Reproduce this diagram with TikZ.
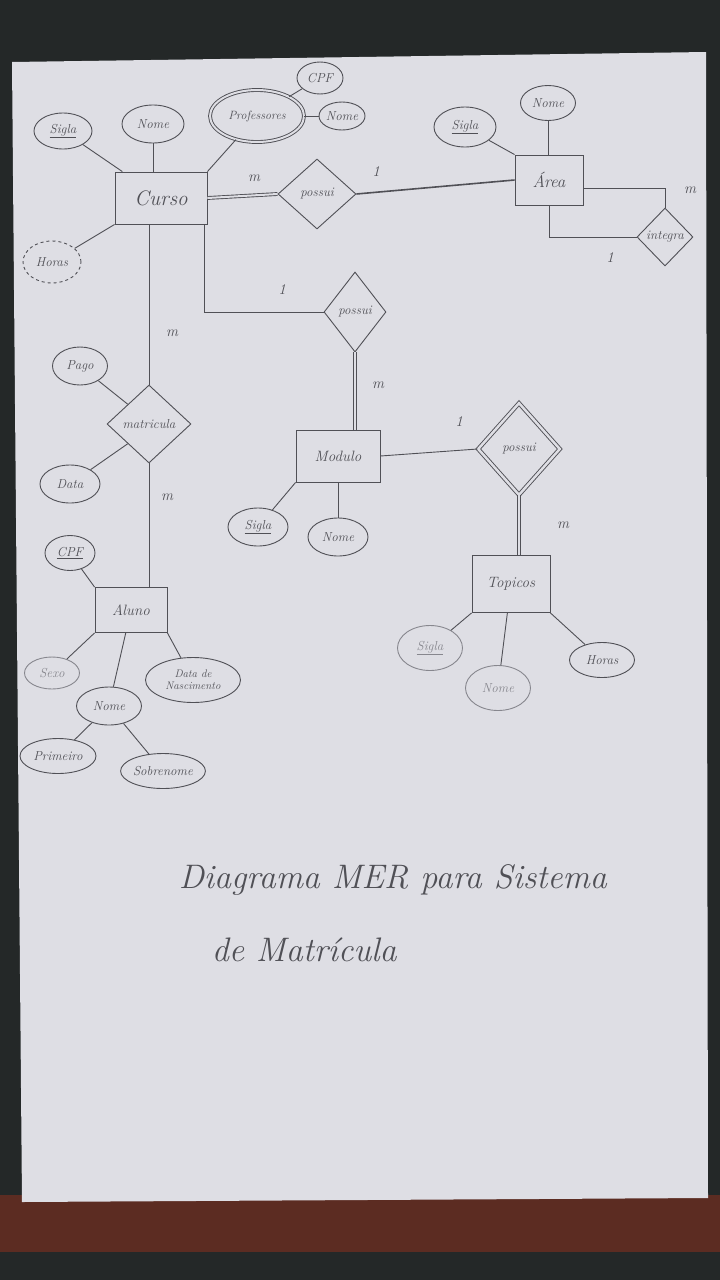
\documentclass[tikz,border=0pt]{standalone}
\usepackage{xcolor}
\usepackage{tikz}
\usetikzlibrary{shapes.geometric,positioning,calc}

\definecolor{pencil}{RGB}{80,80,86}
\definecolor{faint}{RGB}{135,135,142}
\definecolor{paper}{RGB}{222,222,228}
\definecolor{backdrop}{RGB}{36,40,40}
\definecolor{wood}{RGB}{92,44,34}

\begin{document}
\begin{tikzpicture}
  [
    x=1pt, y=-1pt,
    line width=0.9pt,
    every node/.style={text=pencil, font=\fontsize{13}{15}\selectfont\itshape},
    ENT/.style={draw=pencil, rectangle, inner sep=0pt},
    ATT/.style={draw=pencil, ellipse, inner sep=0pt},
    REL/.style={draw=pencil, diamond, inner sep=0pt, aspect=1},
    MULTI/.style={ATT, double=paper, double distance=2pt},
    WEAK/.style={REL, double=paper, double distance=2.5pt},
    DERIV/.style={ATT, dashed},
    CARD/.style={font=\fontsize{15}{17}\selectfont\itshape},
    link/.style={draw=pencil},
    total/.style={draw=pencil, double=paper, double distance=2pt},
  ]
  % background and sheet
  \useasboundingbox (0,0) rectangle (720,1280);
  \fill[backdrop] (0,0) rectangle (720,1280);
  \fill[wood] (0,1195) rectangle (720,1252);
  \fill[paper] (12,62) -- (706,52) -- (708,1198) -- (22,1202) -- cycle;

  % Curso
  \node [ENT, minimum width=92pt, minimum height=52pt, font=\fontsize{21}{23}\selectfont\itshape] (curso) at (161,198) {Curso};
  \node [ATT, minimum width=58pt, minimum height=36pt] (cursoSigla) at (63,131) {\underline{Sigla}};
  \node [ATT, minimum width=62pt, minimum height=38pt] (cursoNome) at (153,124) {Nome};
  \node [MULTI, minimum width=94pt, minimum height=52pt, font=\fontsize{12}{14}\selectfont\itshape] (prof) at (257,116) {Professores};
  \node [ATT, minimum width=46pt, minimum height=32pt] (profCPF) at (320,78) {CPF};
  \node [ATT, minimum width=46pt, minimum height=28pt] (profNome) at (342,116) {Nome};
  \node [DERIV, minimum width=58pt, minimum height=42pt] (cursoHoras) at (52,262) {Horas};
  \draw [link] (curso) -- (cursoSigla);
  \draw [link] (curso.north -| cursoNome) -- (cursoNome);
  \draw [link] (curso.north east) -- (prof);
  \draw [link] (prof) -- (profCPF);
  \draw [link] (prof) -- (profNome);
  \draw [link] (curso.south west) -- (cursoHoras);

  % Area
  \node [ENT, minimum width=68pt, minimum height=50pt, font=\fontsize{17}{19}\selectfont\itshape] (area) at (549,180) {Área};
  \node [ATT, minimum width=62pt, minimum height=40pt] (areaSigla) at (465,127) {\underline{Sigla}};
  \node [ATT, minimum width=55pt, minimum height=35pt] (areaNome) at (548,103) {Nome};
  \node [REL, minimum width=56pt, minimum height=58pt] (integra) at (665,237) {integra};
  \draw [link] (area.north west) -- (areaSigla);
  \draw [link] (area.north -| areaNome) -- (areaNome);
  \draw [link] ([yshift=-8pt]area.east) -| (integra.north);
  \draw [link] (area.south) |- (integra.west);
  \node [CARD] (cardIntM) at (690,190) {m};
  \node [CARD] (cardInt1) at (610,258) {1};

  % Curso -- possui -- Area
  \node [REL, minimum width=78pt, minimum height=70pt] (possuiA) at (317,194) {possui};
  \draw [total] (curso.east) -- (possuiA.west);
  \draw [link, line width=1.6pt] (possuiA.east) -- (area.west);
  \node [CARD] (cardPA1) at (254,178) {m};
  \node [CARD] (cardPA2) at (376,172) {1};

  % Curso -- possui -- Modulo
  \node [REL, minimum width=62pt, minimum height=80pt] (possuiB) at (355,312) {possui};
  \node [ENT, minimum width=84pt, minimum height=52pt, font=\fontsize{15}{17}\selectfont\itshape] (modulo) at (338,456) {Modulo};
  \node [ATT, minimum width=60pt, minimum height=38pt] (moduloSigla) at (258,527) {\underline{Sigla}};
  \node [ATT, minimum width=60pt, minimum height=38pt] (moduloNome) at (338,537) {Nome};
  \draw [link] ([xshift=-3pt]curso.south east) |- (possuiB.west);
  \draw [total] (possuiB.south) -- (possuiB.south |- modulo.north);
  \draw [link] (modulo.south west) -- (moduloSigla);
  \draw [link] (modulo) -- (moduloNome);
  \node [CARD] (cardPB1) at (282,290) {1};
  \node [CARD] (cardPB2) at (378,385) {m};

  % Modulo -- possui -- Topicos
  \node [WEAK, minimum width=82pt, minimum height=92pt] (possuiC) at (519,449) {possui};
  \node [ENT, minimum width=78pt, minimum height=57pt, font=\fontsize{15}{17}\selectfont\itshape] (topicos) at (511,584) {Topicos};
  \node [ATT, draw=faint, text=faint, minimum width=65pt, minimum height=45pt] (topSigla) at (430,648) {\underline{Sigla}};
  \node [ATT, draw=faint, text=faint, minimum width=65pt, minimum height=45pt] (topNome) at (498,688) {Nome};
  \node [ATT, minimum width=65pt, minimum height=35pt] (topHoras) at (602,660) {Horas};
  \draw [link] (modulo.east) -- (possuiC.west);
  \draw [total] (possuiC.south) -- (possuiC.south |- topicos.north);
  \draw [link] (topicos.south west) -- (topSigla);
  \draw [link] (topicos) -- (topNome);
  \draw [link] (topicos.south east) -- (topHoras);
  \node [CARD] (cardPC1) at (459,422) {1};
  \node [CARD] (cardPC2) at (563,525) {m};

  % matricula
  \node [REL, minimum width=84pt, minimum height=78pt] (matricula) at (149,424) {matricula};
  \node [ATT, minimum width=55pt, minimum height=38pt] (matPago) at (80,366) {Pago};
  \node [ATT, minimum width=60pt, minimum height=38pt] (matData) at (70,484) {Data};
  \draw [link] (matricula.north) -- (matricula.north |- curso.south);
  \draw [link] (matricula.north west) -- (matPago);
  \draw [link] (matricula.south west) -- (matData);
  \node [CARD] (cardMat1) at (172,333) {m};
  \node [CARD] (cardMat2) at (167,497) {m};

  % Aluno
  \node [ENT, minimum width=72pt, minimum height=45pt, font=\fontsize{15}{17}\selectfont\itshape] (aluno) at (131,610) {Aluno};
  \node [ATT, minimum width=50pt, minimum height=35pt] (alunoCPF) at (70,553) {\underline{CPF}};
  \node [ATT, draw=faint, text=faint, minimum width=55pt, minimum height=32pt] (alunoSexo) at (52,673) {Sexo};
  \node [ATT, minimum width=65pt, minimum height=38pt] (alunoNome) at (109,706) {Nome};
  \node [ATT, minimum width=95pt, minimum height=45pt, align=center, font=\fontsize{11}{12}\selectfont\itshape] (alunoNasc) at (193,680) {Data de\\Nascimento};
  \node [ATT, minimum width=76pt, minimum height=35pt] (nomePrim) at (58,756) {Primeiro};
  \node [ATT, minimum width=80pt, minimum height=35pt] (nomeSob) at (163,771) {Sobrenome};
  \draw [link] (matricula.south) -- (matricula.south |- aluno.north);
  \draw [link] (aluno.north west) -- (alunoCPF);
  \draw [link] (aluno.south west) -- (alunoSexo);
  \draw [link] (aluno) -- (alunoNome);
  \draw [link] (aluno.south east) -- (alunoNasc);
  \draw [link] (alunoNome) -- (nomePrim);
  \draw [link] (alunoNome) -- (nomeSob);

  % title
  \node [anchor=west, font=\fontsize{34}{38}\selectfont\itshape] (titleA) at (175,880) {Diagrama MER para Sistema};
  \node [anchor=west, font=\fontsize{34}{38}\selectfont\itshape] (titleB) at (208,950) {de Matrícula};
\end{tikzpicture}
\end{document}
